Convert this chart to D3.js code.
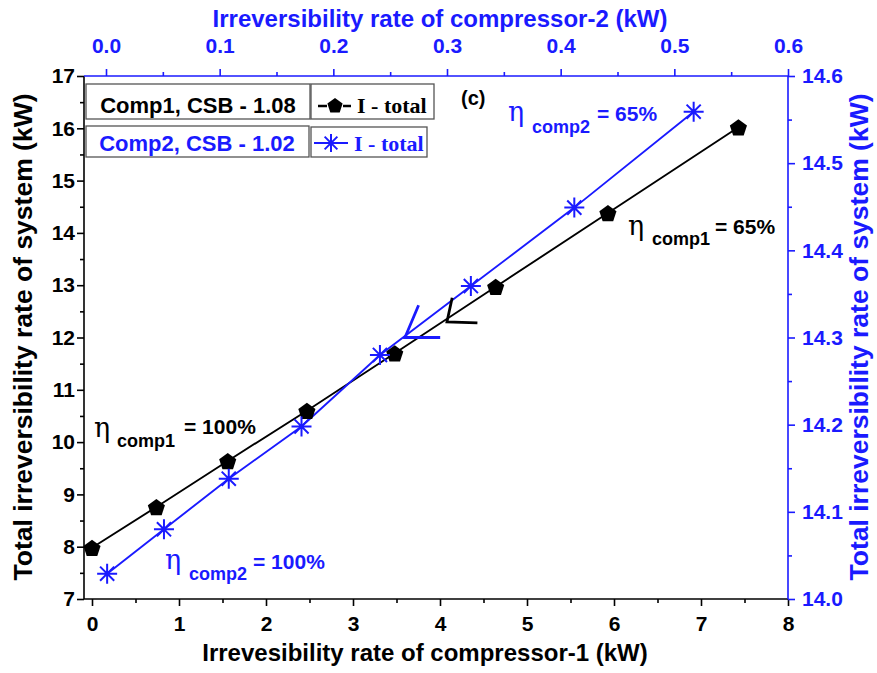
<!DOCTYPE html>
<html>
<head>
<meta charset="utf-8">
<script src="https://cdn.jsdelivr.net/npm/d3@7"></script>
<style>
  body { margin: 0; background: #fff; }
  svg { display: block; }
  text { font-family: "Liberation Sans", Arial, sans-serif; font-weight: bold; }
</style>
</head>
<body>
<svg id="chart" width="877" height="673"></svg>
<script>
// Compressor-1 sweep (bottom / left axes)
const comp1Irr   = [0.00, 0.74, 1.56, 2.47, 3.48, 4.64, 5.93, 7.43];
const comp1Total = [7.98, 8.76, 9.64, 10.60, 11.70, 12.97, 14.38, 16.02];
// Compressor-2 sweep (top / right axes)
const comp2Irr   = [0.001, 0.051, 0.108, 0.172, 0.241, 0.321, 0.412, 0.517];
const comp2Total = [14.029, 14.080, 14.138, 14.198, 14.280, 14.359, 14.449, 14.559];

const bottomTicks = [0, 1, 2, 3, 4, 5, 6, 7, 8];
const leftTicks   = [7, 8, 9, 10, 11, 12, 13, 14, 15, 16, 17];
const topTicks    = [0.0, 0.1, 0.2, 0.3, 0.4, 0.5, 0.6];
const rightTicks  = [14.0, 14.1, 14.2, 14.3, 14.4, 14.5, 14.6];

// Arrow heads pointing each curve to its axis pair (upper arm, vertex, side arm)
const arrow1 = [[4.14, 12.76], [4.08, 12.30], [4.43, 12.28]];
const arrow2 = [[0.275, 14.337], [0.263, 14.300], [0.294, 14.300]];

const BLUE = "#1a1aff";
const svg = d3.select("#chart");
const L = 84, R = 788, T = 76, B = 599;

const x1 = d3.scaleLinear().domain([0, 8]).range([92, R]);
const y1 = d3.scaleLinear().domain([7, 17]).range([B, T]);
const x2 = d3.scaleLinear().domain([0, 0.6]).range([106, R]);
const y2 = d3.scaleLinear().domain([14, 14.6]).range([B, T]);

function halves(ticks) {
  const out = [];
  for (let i = 0; i < ticks.length - 1; i++) out.push((ticks[i] + ticks[i + 1]) / 2);
  return out;
}

function drawAxis(axisFn, scale, ticks, fmt, transform, color, pad) {
  const g = svg.append("g").attr("transform", transform);
  g.call(axisFn(scale).tickValues(ticks).tickSize(7).tickPadding(pad).tickFormat(fmt));
  g.append("g").call(axisFn(scale).tickValues(halves(ticks)).tickSize(4).tickFormat(""));
  g.selectAll(".domain").remove();
  g.selectAll("line").attr("stroke", color).attr("stroke-width", 1.6);
  g.selectAll("text").attr("fill", color).style("font-size", "21px")
    .style("font-family", "'Liberation Sans', Arial, sans-serif").style("font-weight", "bold");
  return g;
}

drawAxis(d3.axisBottom, x1, bottomTicks, d3.format("d"), `translate(0,${B})`, "#000", 10);
drawAxis(d3.axisLeft, y1, leftTicks, d3.format("d"), `translate(${L},0)`, "#000", 2);
drawAxis(d3.axisTop, x2, topTicks, d3.format(".1f"), `translate(0,${T})`, BLUE, 16);
drawAxis(d3.axisRight, y2, rightTicks, d3.format(".1f"), `translate(${R},0)`, BLUE, 7);

// Frame lines
svg.append("line").attr("x1", L).attr("x2", R).attr("y1", B).attr("y2", B).attr("stroke", "#000").attr("stroke-width", 1.6);
svg.append("line").attr("x1", L).attr("x2", L).attr("y1", T).attr("y2", B).attr("stroke", "#000").attr("stroke-width", 1.6);
svg.append("line").attr("x1", L).attr("x2", R).attr("y1", T).attr("y2", T).attr("stroke", BLUE).attr("stroke-width", 1.6);
svg.append("line").attr("x1", R).attr("x2", R).attr("y1", T).attr("y2", B).attr("stroke", BLUE).attr("stroke-width", 1.6);

// Axis titles
svg.append("text").attr("x", 425).attr("y", 661).attr("text-anchor", "middle")
  .style("font-size", "24px").attr("fill", "#000").text("Irrevesibility rate of compressor-1 (kW)");
svg.append("text").attr("x", 440).attr("y", 27).attr("text-anchor", "middle")
  .style("font-size", "24px").attr("fill", BLUE).text("Irreversibility rate of compressor-2 (kW)");
svg.append("text").attr("transform", "translate(32,337) rotate(-90)").attr("text-anchor", "middle")
  .style("font-size", "26.5px").attr("fill", "#000").text("Total irreversibility rate of system (kW)");
svg.append("text").attr("transform", "translate(868,337) rotate(-90)").attr("text-anchor", "middle")
  .style("font-size", "26.5px").attr("fill", BLUE).text("Total irreversibility rate of system (kW)");

// Series
const data1 = comp1Irr.map((v, i) => [v, comp1Total[i]]);
const data2 = comp2Irr.map((v, i) => [v, comp2Total[i]]);

svg.append("path").datum(data1)
  .attr("d", d3.line().x(d => x1(d[0])).y(d => y1(d[1])))
  .attr("fill", "none").attr("stroke", "#000").attr("stroke-width", 1.9);
svg.append("path").datum(data2)
  .attr("d", d3.line().x(d => x2(d[0])).y(d => y2(d[1])))
  .attr("fill", "none").attr("stroke", BLUE).attr("stroke-width", 1.9);

function pentagonPath(r) {
  const pts = d3.range(5).map(k => {
    const a = -Math.PI / 2 + k * 2 * Math.PI / 5;
    return [r * Math.cos(a), r * Math.sin(a)];
  });
  return "M" + pts.map(p => p.join(",")).join("L") + "Z";
}
function starPath(r) {
  const d = r * Math.SQRT1_2;
  return `M${-r},0L${r},0M0,${-r}L0,${r}M${-d},${-d}L${d},${d}M${-d},${d}L${d},${-d}`;
}

svg.append("g").selectAll("path").data(data1).join("path")
  .attr("transform", d => `translate(${x1(d[0])},${y1(d[1]) + 1})`)
  .attr("d", pentagonPath(9)).attr("fill", "#000");
svg.append("g").selectAll("path").data(data2).join("path")
  .attr("transform", d => `translate(${x2(d[0])},${y2(d[1])})`)
  .attr("d", starPath(10)).attr("fill", "none").attr("stroke", BLUE).attr("stroke-width", 2);

// Direction arrows
svg.append("path").datum(arrow1)
  .attr("d", d3.line().x(d => x1(d[0])).y(d => y1(d[1])))
  .attr("fill", "none").attr("stroke", "#000").attr("stroke-width", 2.8);
svg.append("path").datum(arrow2)
  .attr("d", d3.line().x(d => x2(d[0])).y(d => y2(d[1])))
  .attr("fill", "none").attr("stroke", BLUE).attr("stroke-width", 2.8);

// Legend
const leg = svg.append("g");
function box(x, y, w, h) {
  leg.append("rect").attr("x", x).attr("y", y).attr("width", w).attr("height", h)
    .attr("fill", "#fff").attr("stroke", "#555").attr("stroke-width", 1.3);
}
box(86, 84, 224, 35); box(311, 84, 123, 35);
box(86, 126, 223, 31); box(311, 127, 116, 30);
leg.append("text").attr("x", 198).attr("y", 113).attr("text-anchor", "middle")
  .style("font-size", "22px").attr("fill", "#000").text("Comp1, CSB - 1.08");
leg.append("text").attr("x", 197).attr("y", 151).attr("text-anchor", "middle")
  .style("font-size", "22px").attr("fill", BLUE).text("Comp2, CSB - 1.02");
leg.append("line").attr("x1", 318).attr("x2", 327).attr("y1", 106).attr("y2", 106).attr("stroke", "#000").attr("stroke-width", 2.5);
leg.append("line").attr("x1", 343).attr("x2", 351).attr("y1", 106).attr("y2", 106).attr("stroke", "#000").attr("stroke-width", 2.5);
leg.append("path").attr("transform", "translate(335,106)").attr("d", pentagonPath(8)).attr("fill", "#000");
leg.append("line").attr("x1", 314).attr("x2", 348).attr("y1", 143).attr("y2", 143).attr("stroke", BLUE).attr("stroke-width", 1.8);
leg.append("path").attr("transform", "translate(331,143)").attr("d", starPath(9))
  .attr("fill", "none").attr("stroke", BLUE).attr("stroke-width", 2);
leg.append("text").attr("x", 357).attr("y", 113)
  .style("font-family", "'Liberation Serif', 'Times New Roman', serif").style("font-size", "22px")
  .attr("fill", "#000").text("I - total");
leg.append("text").attr("x", 354).attr("y", 151)
  .style("font-family", "'Liberation Serif', 'Times New Roman', serif").style("font-size", "22px")
  .attr("fill", BLUE).text("I - total");

svg.append("text").attr("x", 461).attr("y", 105).style("font-size", "20px").attr("fill", "#000").text("(c)");

// Efficiency annotations
function eta(x, y, sub, subX, subY, rest, restX, restY, color) {
  const g = svg.append("g").attr("fill", color);
  g.append("text").attr("x", x).attr("y", y)
    .style("font-family", "'DejaVu Serif', 'Liberation Serif', serif").style("font-weight", "normal")
    .style("font-size", "27px").text("η");
  g.append("text").attr("x", subX).attr("y", subY).style("font-size", "18px").text(sub);
  g.append("text").attr("x", restX).attr("y", restY).style("font-size", "21px").text(rest);
}
eta(508, 121, "comp2", 532, 133, "= 65%", 597, 121, BLUE);
eta(628, 235, "comp1", 652, 245, "= 65%", 715, 234, "#000");
eta(94, 437, "comp1", 117, 447, "= 100%", 184, 434, "#000");
eta(165, 569, "comp2", 189, 580, "= 100%", 253, 569, BLUE);
</script>
</body>
</html>
